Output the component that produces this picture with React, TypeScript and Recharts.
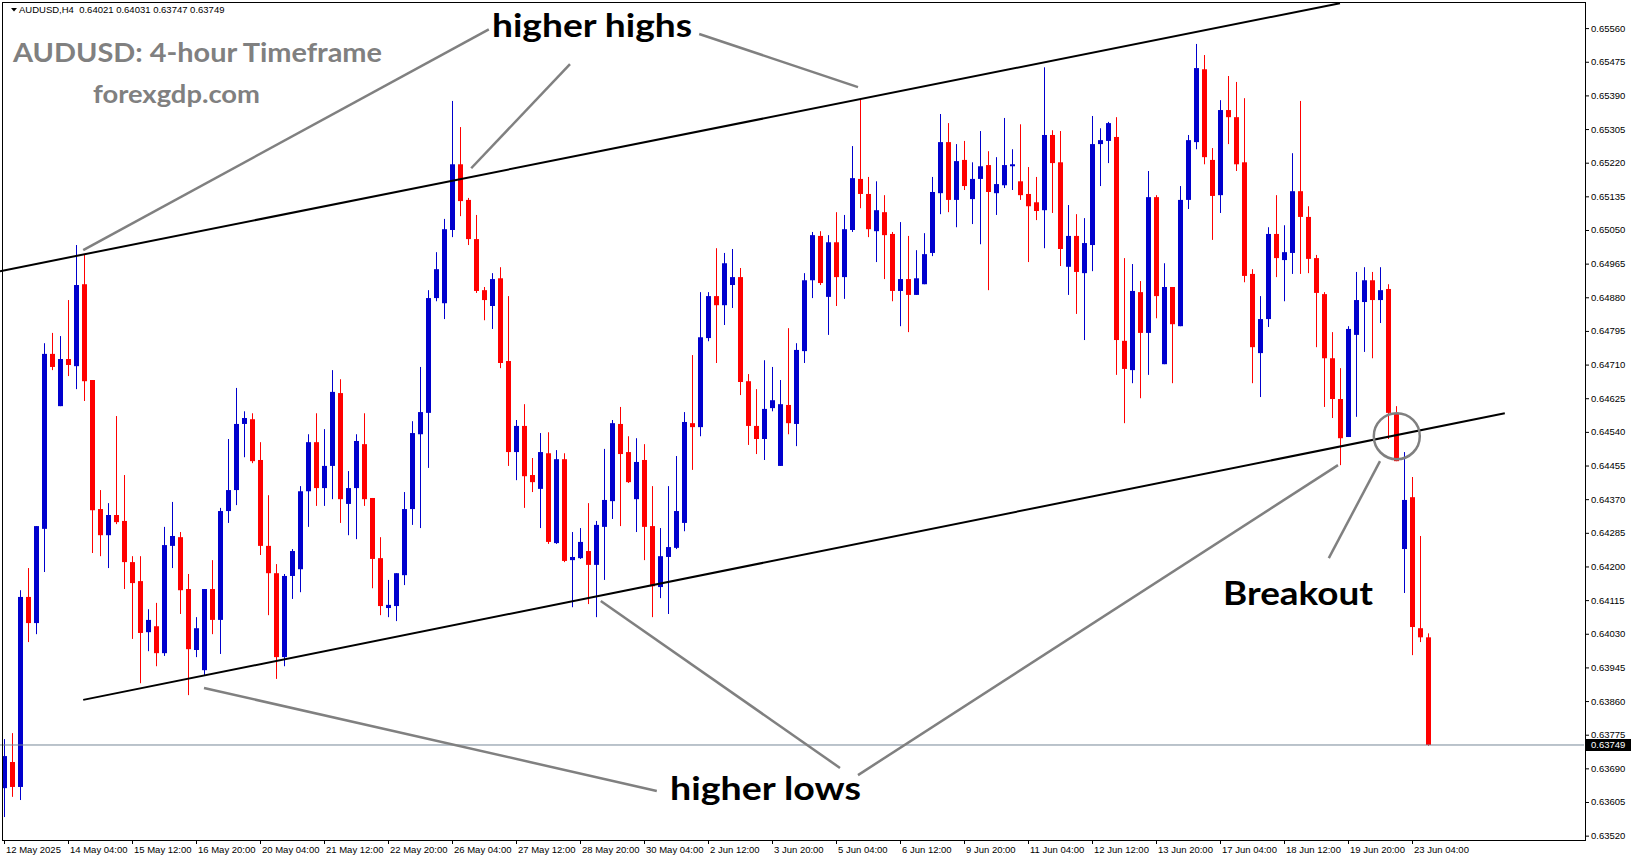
import React from "react";
import { ComposedChart, Bar, XAxis, YAxis, ReferenceLine, ReferenceDot } from "recharts";

// AUDUSD H4, one entry per bar, 12 May 20:00 .. 23 Jun 12:00
const opens = [
  0.6364, 0.63706, 0.63643, 0.64123, 0.64057, 0.64295, 0.64737, 0.64605, 0.64724, 0.64706,
  0.64913, 0.64671, 0.64345, 0.64279, 0.6433, 0.64315, 0.64211, 0.64163, 0.64034, 0.64049,
  0.63981, 0.64252, 0.64274, 0.64143, 0.63989, 0.63938, 0.64143, 0.64065, 0.6434, 0.64393,
  0.6456, 0.64572, 0.64469, 0.64252, 0.64183, 0.63971, 0.64176, 0.64193, 0.6439, 0.64514,
  0.64398, 0.64454, 0.64638, 0.64358, 0.64398, 0.64509, 0.64373, 0.64221, 0.64095, 0.641,
  0.64178, 0.64345, 0.64534, 0.64588, 0.64878, 0.64865, 0.6505, 0.65216, 0.65126, 0.65027,
  0.64898, 0.64858, 0.64928, 0.64719, 0.64489, 0.64555, 0.64431, 0.64396, 0.64486, 0.64259,
  0.64471, 0.64216, 0.64221, 0.64239, 0.64204, 0.643, 0.64365, 0.6456, 0.64489, 0.6437,
  0.64469, 0.64302, 0.64148, 0.64224, 0.64247, 0.6431, 0.64562, 0.64552, 0.64777, 0.64883,
  0.6486, 0.64911, 0.64931, 0.64668, 0.64555, 0.64522, 0.646, 0.64454, 0.64608, 0.6456,
  0.64744, 0.64923, 0.65035, 0.64881, 0.65019, 0.64931, 0.6505, 0.65179, 0.65141, 0.65047,
  0.65095, 0.6504, 0.64896, 0.64926, 0.64886, 0.64913, 0.64992, 0.65143, 0.65272, 0.65126,
  0.65227, 0.65128, 0.65179, 0.65214, 0.65143, 0.65163, 0.65211, 0.65173, 0.65141, 0.6512,
  0.651, 0.6529, 0.65221, 0.64957, 0.65035, 0.64941, 0.65012, 0.65267, 0.65275, 0.65285,
  0.6477, 0.64696, 0.64893, 0.6479, 0.65133, 0.64711, 0.64906, 0.64807, 0.65126, 0.65272,
  0.65456, 0.65227, 0.65138, 0.65353, 0.65335, 0.65221, 0.64939, 0.64739, 0.64825, 0.6504,
  0.64974, 0.64992, 0.65148, 0.65083, 0.64979, 0.64888, 0.64726, 0.64623, 0.64527, 0.64785,
  0.64868, 0.64923, 0.64873, 0.64901, 0.64588, 0.64244, 0.64375, 0.64044, 0.64021,
];
const highs = [
  0.63764, 0.63779, 0.6414, 0.64196, 0.64302, 0.64764, 0.6479, 0.64782, 0.64873, 0.65012,
  0.64987, 0.64671, 0.64393, 0.6436, 0.6458, 0.64431, 0.64226, 0.64226, 0.64092, 0.64108,
  0.643, 0.64363, 0.64287, 0.64181, 0.64072, 0.64143, 0.64216, 0.64348, 0.64522, 0.64651,
  0.64592, 0.64587, 0.64514, 0.6438, 0.64206, 0.64181, 0.64244, 0.64403, 0.64534, 0.64587,
  0.64547, 0.64696, 0.64673, 0.64441, 0.64534, 0.64587, 0.64373, 0.64274, 0.64166, 0.64183,
  0.64388, 0.64567, 0.64704, 0.64898, 0.64994, 0.65078, 0.65376, 0.6531, 0.65131, 0.65088,
  0.64906, 0.64941, 0.64956, 0.64883, 0.6457, 0.6461, 0.64474, 0.64537, 0.64539, 0.64494,
  0.64486, 0.64287, 0.64297, 0.6436, 0.64315, 0.64497, 0.6457, 0.64603, 0.64529, 0.64524,
  0.64509, 0.64403, 0.64297, 0.64403, 0.64479, 0.6459, 0.64734, 0.64893, 0.64893, 0.65004,
  0.64992, 0.65002, 0.64954, 0.64686, 0.64648, 0.64721, 0.64704, 0.64671, 0.64802, 0.64764,
  0.64941, 0.65045, 0.65047, 0.65037, 0.65095, 0.65088, 0.65262, 0.65381, 0.65184, 0.65173,
  0.65138, 0.65045, 0.6507, 0.65035, 0.64999, 0.65042, 0.65184, 0.65343, 0.6532, 0.65267,
  0.65275, 0.65221, 0.653, 0.65249, 0.65234, 0.65333, 0.65254, 0.65317, 0.65209, 0.65184,
  0.65461, 0.65302, 0.653, 0.65113, 0.6509, 0.6508, 0.65338, 0.65307, 0.65323, 0.65335,
  0.64979, 0.64964, 0.64921, 0.65199, 0.65138, 0.64966, 0.64906, 0.65161, 0.6529, 0.6552,
  0.65492, 0.65257, 0.65378, 0.65439, 0.65424, 0.65383, 0.64951, 0.64883, 0.65057, 0.65138,
  0.65062, 0.65244, 0.65376, 0.6511, 0.64987, 0.64893, 0.64792, 0.64701, 0.64807, 0.64944,
  0.64956, 0.64944, 0.64956, 0.64913, 0.64605, 0.64489, 0.64426, 0.64277, 0.64031,
];
const lows = [
  0.63567, 0.63618, 0.6361, 0.64009, 0.64029, 0.64186, 0.64696, 0.64605, 0.64681, 0.64648,
  0.64618, 0.64234, 0.64226, 0.64196, 0.64307, 0.64143, 0.64017, 0.63905, 0.63986, 0.63948,
  0.63974, 0.64196, 0.6408, 0.63875, 0.63971, 0.63926, 0.64029, 0.63979, 0.6431, 0.64355,
  0.64476, 0.64461, 0.64229, 0.64077, 0.63916, 0.63948, 0.64118, 0.64135, 0.643, 0.64353,
  0.64353, 0.6437, 0.6431, 0.64279, 0.64269, 0.64353, 0.64145, 0.64077, 0.64072, 0.64062,
  0.64153, 0.64305, 0.64297, 0.64449, 0.6487, 0.64825, 0.65032, 0.65085, 0.65012, 0.64891,
  0.64822, 0.648, 0.64701, 0.64454, 0.64418, 0.64348, 0.64388, 0.64297, 0.64257, 0.64257,
  0.64211, 0.64097, 0.64219, 0.64105, 0.64072, 0.64166, 0.6432, 0.64302, 0.64411, 0.64287,
  0.64216, 0.64072, 0.6412, 0.6408, 0.64244, 0.64289, 0.64444, 0.64529, 0.64769, 0.64714,
  0.6481, 0.64853, 0.64633, 0.64507, 0.64484, 0.64469, 0.64592, 0.64454, 0.64534, 0.64504,
  0.64714, 0.64878, 0.64911, 0.64785, 0.64858, 0.64876, 0.65045, 0.65105, 0.65032, 0.64969,
  0.64926, 0.6487, 0.64807, 0.64792, 0.64886, 0.64913, 0.64984, 0.6509, 0.65095, 0.65057,
  0.65151, 0.65065, 0.65014, 0.64898, 0.65088, 0.65156, 0.65151, 0.65126, 0.64969, 0.65075,
  0.65004, 0.65093, 0.64959, 0.64886, 0.64838, 0.64772, 0.64946, 0.65161, 0.65219, 0.64684,
  0.64562, 0.64663, 0.64625, 0.64684, 0.64827, 0.64711, 0.64663, 0.64807, 0.65103, 0.65254,
  0.65216, 0.65025, 0.65093, 0.65267, 0.65199, 0.64918, 0.64663, 0.64628, 0.64805, 0.64931,
  0.6487, 0.64939, 0.64939, 0.64941, 0.64754, 0.64603, 0.64575, 0.64456, 0.64527, 0.64578,
  0.64742, 0.64726, 0.64815, 0.64522, 0.64466, 0.64133, 0.63976, 0.64009, 0.63747,
];
const closes = [
  0.63721, 0.63643, 0.64123, 0.64057, 0.64302, 0.64737, 0.64704, 0.64724, 0.64709, 0.64911,
  0.64668, 0.64342, 0.64279, 0.6433, 0.64312, 0.64211, 0.64158, 0.64032, 0.64065, 0.63981,
  0.64254, 0.64277, 0.6414, 0.63991, 0.64044, 0.64143, 0.64065, 0.6434, 0.64393, 0.6456,
  0.64575, 0.64466, 0.64252, 0.64183, 0.63971, 0.64176, 0.64239, 0.6439, 0.64514, 0.64398,
  0.64454, 0.64641, 0.6437, 0.64398, 0.64517, 0.6437, 0.64219, 0.641, 0.64103, 0.64183,
  0.64345, 0.64537, 0.6459, 0.64878, 0.64951, 0.65052, 0.65216, 0.65123, 0.65027, 0.64896,
  0.64873, 0.64926, 0.64714, 0.64489, 0.64555, 0.64428, 0.64413, 0.64489, 0.64262, 0.64471,
  0.64214, 0.64224, 0.64262, 0.64204, 0.64305, 0.64368, 0.64562, 0.64484, 0.64413, 0.64464,
  0.643, 0.6415, 0.64226, 0.64249, 0.6434, 0.64565, 0.64552, 0.64779, 0.64883, 0.6486,
  0.64966, 0.64931, 0.64666, 0.64555, 0.64522, 0.64598, 0.6462, 0.6461, 0.64562, 0.64747,
  0.64923, 0.65037, 0.64916, 0.65019, 0.64931, 0.65052, 0.65181, 0.65141, 0.65052, 0.651,
  0.65037, 0.64896, 0.64926, 0.64886, 0.64928, 0.64989, 0.65146, 0.65272, 0.65126, 0.65224,
  0.65161, 0.65179, 0.65211, 0.65146, 0.65166, 0.65214, 0.65216, 0.65138, 0.6511, 0.65098,
  0.6529, 0.65219, 0.65002, 0.65035, 0.64944, 0.65017, 0.65267, 0.65277, 0.6532, 0.64772,
  0.64699, 0.64896, 0.6479, 0.65133, 0.64883, 0.64906, 0.64812, 0.65126, 0.65277, 0.65459,
  0.65234, 0.65136, 0.65353, 0.65335, 0.65216, 0.64934, 0.64754, 0.64825, 0.6504, 0.64979,
  0.64994, 0.65148, 0.65083, 0.64977, 0.64891, 0.64726, 0.64623, 0.64524, 0.648, 0.64873,
  0.64923, 0.64873, 0.64898, 0.64588, 0.64466, 0.64368, 0.64047, 0.64021, 0.63749,
];

// one label every 8 bars
const xLabels = [
  "12 May 2025", "14 May 04:00", "15 May 12:00", "16 May 20:00", "20 May 04:00", "21 May 12:00",
  "22 May 20:00", "26 May 04:00", "27 May 12:00", "28 May 20:00", "30 May 04:00", "2 Jun 12:00",
  "3 Jun 20:00", "5 Jun 04:00", "6 Jun 12:00", "9 Jun 20:00", "11 Jun 04:00", "12 Jun 12:00",
  "13 Jun 20:00", "17 Jun 04:00", "18 Jun 12:00", "19 Jun 20:00", "23 Jun 04:00",
];
const yTicks = [
  0.6352, 0.63605, 0.6369, 0.63775, 0.6386, 0.63945, 0.6403, 0.64115, 0.642, 0.64285, 0.6437,
  0.64455, 0.6454, 0.64625, 0.6471, 0.64795, 0.6488, 0.64965, 0.6505, 0.65135, 0.6522, 0.65305,
  0.6539, 0.65475, 0.6556,
];
const lastPrice = 0.63749;

// drawn lines, as [bar index, price] pairs
const upperChannel = [[-0.5, 0.64946], [167, 0.65623]];
const lowerChannel = [[9.9, 0.63863], [187.6, 0.64587]];
const pointers = [
  [[60.6, 0.65557], [9.9, 0.64999]],
  [[70.75, 0.65469], [58.4, 0.65206]],
  [[86.9, 0.65545], [106.75, 0.65411]],
  [[81.6, 0.63633], [25, 0.63893]],
  [[104.5, 0.63691], [74.6, 0.64113]],
  [[106.75, 0.63673], [166.75, 0.64456]],
  [[165.6, 0.64221], [172, 0.64466]],
];
const breakoutMark = { i: 174.1, price: 0.64529 };

const SLOTS = 198;
const BULL = "#0000CD";
const BEAR = "#FF0000";
const AXIS_FONT = "'Liberation Sans', Arial, sans-serif";

const data = Array.from({ length: SLOTS }, (_, i) =>
  i < opens.length
    ? {
        key: String(i),
        i,
        open: opens[i],
        high: highs[i],
        low: lows[i],
        close: closes[i],
        range: [lows[i], highs[i]],
      }
    : { key: String(i), i }
);

const Candle = (props: any) => {
  const { x, y, width, height, payload } = props;
  if (!payload || payload.open == null) return null;
  const { open, close, high, low } = payload;
  const top = Math.min(y, y + height);
  const h = Math.abs(height);
  const k = high > low ? h / (high - low) : 0;
  const cx = Math.round(x + width / 2);
  const bodyTop = top + (high - Math.max(open, close)) * k;
  const bodyH = Math.max(1, Math.abs(open - close) * k);
  const color = close >= open ? BULL : BEAR;
  return (
    <g>
      <rect x={cx} y={top} width={1} height={Math.max(1, h)} fill={color} />
      <rect x={cx - 2} y={bodyTop} width={5} height={bodyH} fill={color} />
    </g>
  );
};

const XTick = (props: any) => {
  const { x, y, payload } = props;
  const idx = Number(payload.value);
  if (idx % 8 !== 0) return null;
  const label = xLabels[idx / 8];
  if (!label) return null;
  return (
    <g>
      <line x1={x + 0.5} y1={y} x2={x + 0.5} y2={y + 4} stroke="#000" />
      <text x={x + 2} y={y + 13} fontSize={9.5} fontFamily={AXIS_FONT} fill="#000">
        {label}
      </text>
    </g>
  );
};

const YTick = (props: any) => {
  const { x, y, payload } = props;
  const v = payload.value;
  if (v === lastPrice) {
    return (
      <g>
        <rect x={x + 2} y={y - 6} width={46} height={12} fill="#000" />
        <text x={x + 7} y={y} dominantBaseline="central" fontSize={9.5} fontFamily={AXIS_FONT} fill="#fff">
          {v.toFixed(5)}
        </text>
      </g>
    );
  }
  return (
    <g>
      <line x1={x + 1} y1={y + 0.5} x2={x + 5} y2={y + 0.5} stroke="#000" />
      <text x={x + 7} y={y} dominantBaseline="central" fontSize={9.5} fontFamily={AXIS_FONT} fill="#000">
        {v.toFixed(5)}
      </text>
    </g>
  );
};

const seg = (p: number[][]) => [
  { x: p[0][0], y: p[0][1] },
  { x: p[1][0], y: p[1][1] },
];

export default function App() {
  return (
    <div
      style={{
        position: "absolute",
        left: 0,
        top: 0,
        width: 1631,
        height: 861,
        background: "#fff",
        overflow: "hidden",
      }}
    >
      <ComposedChart
        width={1631}
        height={861}
        data={data}
        margin={{ top: 0, right: 0, bottom: 0, left: 0 }}
        barCategoryGap={0}
        barGap={0}
      >
        <XAxis
          xAxisId="cat"
          dataKey="key"
          type="category"
          height={21}
          interval={0}
          tickLine={false}
          axisLine={false}
          tickSize={0}
          tickMargin={0}
          tick={<XTick />}
        />
        <XAxis xAxisId="num" dataKey="i" type="number" domain={[-0.5, SLOTS - 0.5]} allowDataOverflow hide />
        <YAxis
          orientation="right"
          width={47}
          type="number"
          domain={[0.63509, 0.65631]}
          allowDataOverflow
          ticks={[...yTicks, lastPrice]}
          interval={0}
          tickLine={false}
          axisLine={false}
          tickSize={0}
          tickMargin={0}
          tick={<YTick />}
        />
        <ReferenceLine xAxisId="num" y={lastPrice} stroke="#778899" strokeWidth={1} />
        <Bar xAxisId="cat" dataKey="range" shape={<Candle />} isAnimationActive={false} />
        <ReferenceLine xAxisId="num" segment={seg(upperChannel)} stroke="#000" strokeWidth={2} ifOverflow="visible" />
        <ReferenceLine xAxisId="num" segment={seg(lowerChannel)} stroke="#000" strokeWidth={2} ifOverflow="visible" />
        {pointers.map((p, k) => (
          <ReferenceLine
            key={k}
            xAxisId="num"
            segment={seg(p)}
            stroke="#808080"
            strokeWidth={2.5}
            ifOverflow="visible"
          />
        ))}
        <ReferenceDot
          xAxisId="num"
          x={breakoutMark.i}
          y={breakoutMark.price}
          r={23}
          fill="none"
          stroke="#808080"
          strokeWidth={2.5}
          ifOverflow="visible"
        />
      </ComposedChart>

      {/* chart frame */}
      <div
        style={{
          position: "absolute",
          left: 2,
          top: 2,
          width: 1584,
          height: 839,
          boxSizing: "border-box",
          border: "1px solid #000",
          pointerEvents: "none",
        }}
      />

      {/* header and annotations */}
      <svg
        width={1631}
        height={861}
        style={{ position: "absolute", left: 0, top: 0, pointerEvents: "none" }}
      >
        <polygon points="11,8 17,8 14,11.5" fill="#000" />
        <text x={19} y={13} fontSize={9.5} fontFamily={AXIS_FONT} fill="#000" xmlSpace="preserve">
          AUDUSD,H4  0.64021 0.64031 0.63747 0.63749
        </text>
        <g fontFamily="Lato, 'Open Sans', sans-serif" fontWeight={700}>
          <text x={13} y={62} fontSize={27} fill="#808080" textLength={369} lengthAdjust="spacingAndGlyphs">
            AUDUSD: 4-hour Timeframe
          </text>
          <text x={93} y={103} fontSize={24} fill="#808080" textLength={167} lengthAdjust="spacingAndGlyphs">
            forexgdp.com
          </text>
          <text x={492} y={37} fontSize={33} fill="#000" textLength={200} lengthAdjust="spacingAndGlyphs">
            higher highs
          </text>
          <text x={670} y={800} fontSize={33} fill="#000" textLength={191} lengthAdjust="spacingAndGlyphs">
            higher lows
          </text>
          <text x={1223} y={605} fontSize={33} fill="#000" textLength={150} lengthAdjust="spacingAndGlyphs">
            Breakout
          </text>
        </g>
      </svg>
    </div>
  );
}
